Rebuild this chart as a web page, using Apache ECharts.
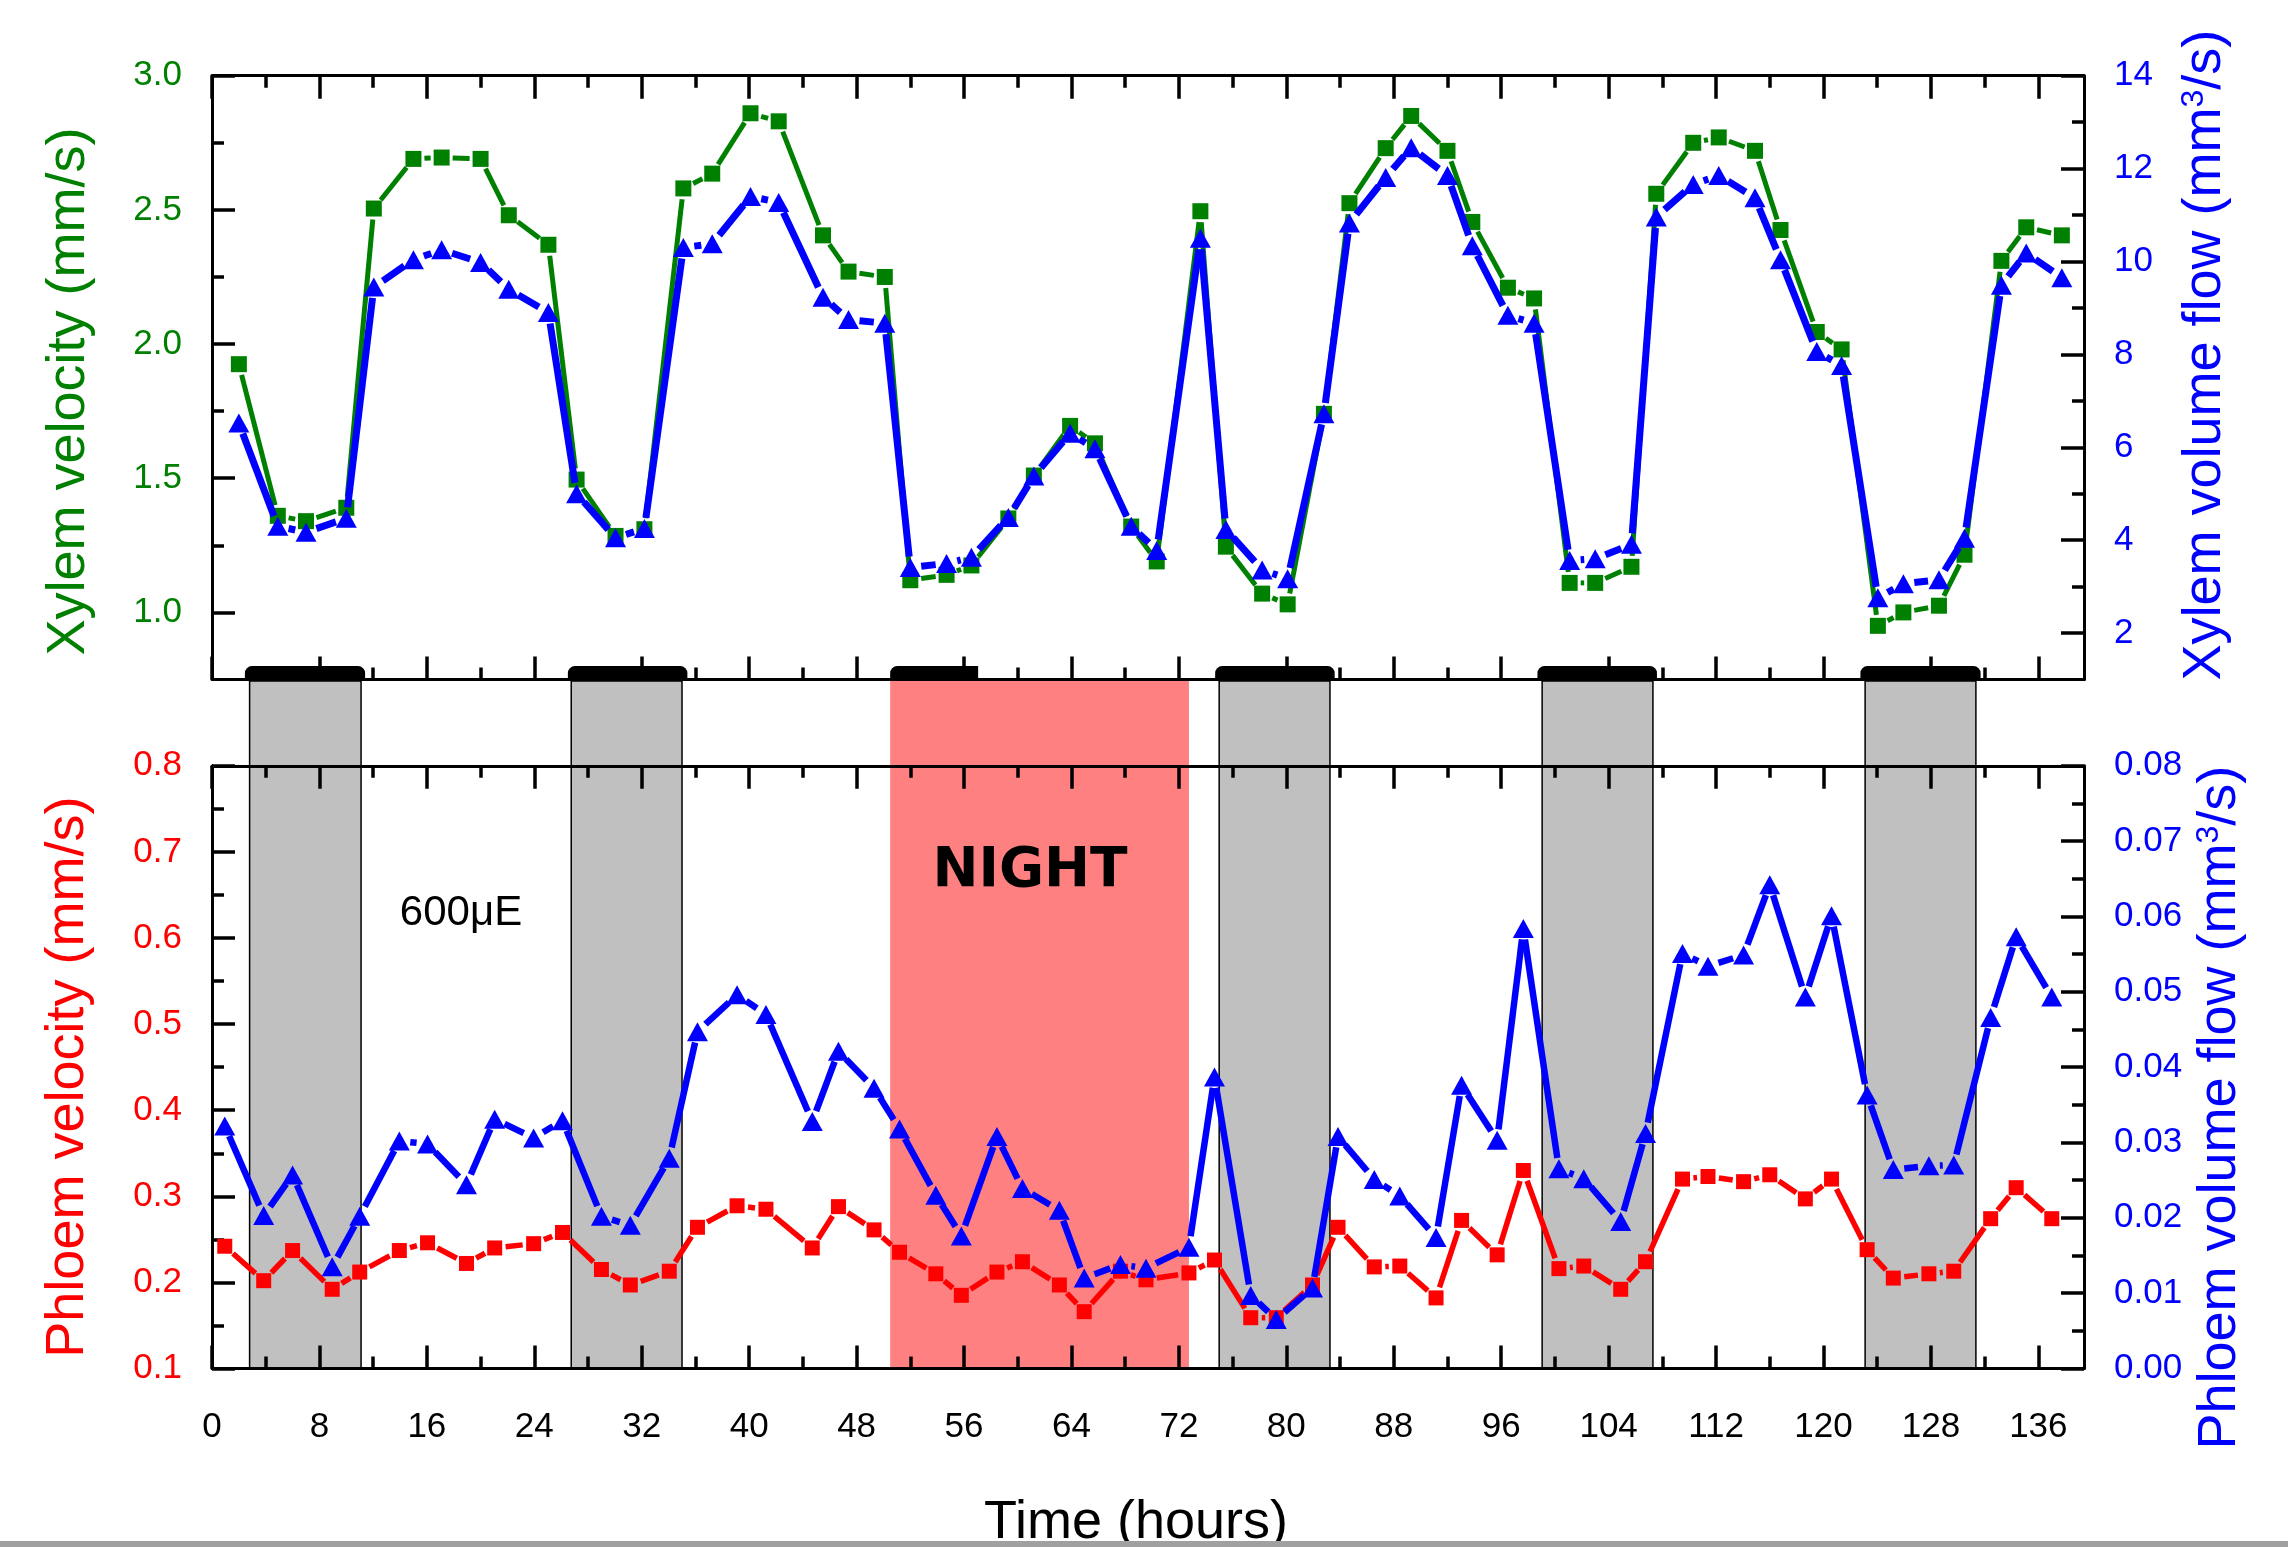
<!DOCTYPE html>
<html><head><meta charset="utf-8">
<script src="https://cdn.jsdelivr.net/npm/echarts@6/dist/echarts.min.js"></script>
<style>html,body{margin:0;padding:0;background:#fff}#c{width:2288px;height:1547px}</style>
</head><body><div id="c"></div>
<script>
// ---------------- data ----------------
const xylemTime = [2.0, 4.9, 7.0, 10.0, 12.05, 15.0, 17.1, 20.0, 22.1, 25.05, 27.15, 30.05, 32.2, 35.1, 37.25, 40.1, 42.2, 45.5, 47.4, 50.1, 52.0, 54.7, 56.55, 59.3, 61.2, 63.9, 65.75, 68.45, 70.35, 73.6, 75.5, 78.2, 80.1, 82.8, 84.7, 87.4, 89.3, 92.0, 93.85, 96.5, 98.45, 101.1, 103.0, 105.7, 107.55, 110.3, 112.2, 114.9, 116.8, 119.5, 121.35, 124.05, 125.95, 128.6, 130.5, 133.25, 135.1, 137.75];
const xylemVelocity = [1.925, 1.36, 1.34, 1.39, 2.505, 2.69, 2.695, 2.69, 2.48, 2.37, 1.495, 1.285, 1.31, 2.58, 2.635, 2.86, 2.83, 2.405, 2.27, 2.25, 1.12, 1.14, 1.175, 1.35, 1.51, 1.695, 1.63, 1.32, 1.19, 2.495, 1.245, 1.07, 1.03, 1.74, 2.525, 2.73, 2.85, 2.72, 2.455, 2.21, 2.17, 1.11, 1.11, 1.17, 2.56, 2.75, 2.77, 2.72, 2.425, 2.045, 1.98, 0.95, 1.0, 1.025, 1.215, 2.31, 2.435, 2.405];
const xylemFlow = [6.52, 4.3, 4.17, 4.47, 9.45, 10.04, 10.25, 9.98, 9.4, 8.9, 5.0, 4.05, 4.25, 10.3, 10.38, 11.4, 11.27, 9.23, 8.75, 8.67, 3.41, 3.5, 3.63, 4.49, 5.38, 6.3, 5.97, 4.3, 3.78, 10.5, 4.23, 3.36, 3.17, 6.72, 10.83, 11.81, 12.45, 11.85, 10.34, 8.84, 8.67, 3.56, 3.6, 3.91, 10.96, 11.66, 11.85, 11.37, 10.04, 8.06, 7.76, 2.76, 3.06, 3.15, 4.04, 9.49, 10.18, 9.65];

const phloemTime = [0.95, 3.85, 6.0, 8.95, 11.0, 13.95, 16.05, 18.95, 21.05, 23.95, 26.1, 29.0, 31.15, 34.05, 36.15, 39.1, 41.25, 44.7, 46.65, 49.3, 51.2, 53.9, 55.8, 58.45, 60.35, 63.1, 64.95, 67.65, 69.55, 72.75, 74.65, 77.35, 79.25, 81.95, 83.85, 86.55, 88.45, 91.15, 93.05, 95.7, 97.65, 100.3, 102.15, 104.9, 106.75, 109.5, 111.4, 114.05, 116.0, 118.65, 120.6, 123.25, 125.2, 127.85, 129.7, 132.45, 134.35, 137.0];
const phloemVelocity = [0.242, 0.202, 0.237, 0.192, 0.212, 0.237, 0.246, 0.222, 0.240, 0.245, 0.258, 0.215, 0.197, 0.213, 0.264, 0.289, 0.285, 0.240, 0.288, 0.261, 0.235, 0.210, 0.185, 0.212, 0.224, 0.197, 0.166, 0.213, 0.203, 0.211, 0.226, 0.159, 0.159, 0.197, 0.264, 0.218, 0.219, 0.182, 0.272, 0.232, 0.330, 0.216, 0.219, 0.192, 0.224, 0.320, 0.323, 0.317, 0.325, 0.297, 0.320, 0.238, 0.205, 0.210, 0.213, 0.274, 0.310, 0.274];
const phloemFlow = [0.0322, 0.0203, 0.0257, 0.0135, 0.0202, 0.0302, 0.0298, 0.0244, 0.0331, 0.0306, 0.0329, 0.0202, 0.0190, 0.0279, 0.0447, 0.0496, 0.0470, 0.0328, 0.0421, 0.0372, 0.0318, 0.0230, 0.0176, 0.0308, 0.0239, 0.0210, 0.0120, 0.0138, 0.0133, 0.0161, 0.0387, 0.0097, 0.0065, 0.0107, 0.0308, 0.0251, 0.0229, 0.0174, 0.0376, 0.0303, 0.0584, 0.0265, 0.0252, 0.0195, 0.0312, 0.0551, 0.0534, 0.0549, 0.0642, 0.0493, 0.0601, 0.0363, 0.0264, 0.0269, 0.0270, 0.0466, 0.0573, 0.0493];

const timeTicks = [0, 8, 16, 24, 32, 40, 48, 56, 64, 72, 80, 88, 96, 104, 112, 120, 128, 136];
const timeMinorTicks = [4, 12, 20, 28, 36, 44, 52, 60, 68, 76, 84, 92, 100, 108, 116, 124, 132];
const xylemVelTicks = [1.0, 1.5, 2.0, 2.5, 3.0];
const xylemVelMinor = [1.25, 1.75, 2.25, 2.75];
const xylemFlowTicks = [2, 4, 6, 8, 10, 12, 14];
const xylemFlowMinor = [3, 5, 7, 9, 11, 13];
const phloemVelTicks = [0.1, 0.2, 0.3, 0.4, 0.5, 0.6, 0.7, 0.8];
const phloemVelMinor = [0.15, 0.25, 0.35, 0.45, 0.55, 0.65, 0.75];
const phloemFlowTicks = [0, 0.01, 0.02, 0.03, 0.04, 0.05, 0.06, 0.07, 0.08];
const phloemFlowMinor = [0.005, 0.015, 0.025, 0.035, 0.045, 0.055, 0.065, 0.075];

const darkPeriods = [[2.8, 11.1], [26.75, 35.0], [75.0, 83.25], [99.05, 107.3], [123.1, 131.35]];
const nightPeriods = [[50.5, 72.75]];
const darkBars = [[2.45, 11.4], [26.5, 35.4], [74.7, 83.6], [98.7, 107.6], [122.75, 131.7]];
const nightBars = [[50.5, 57.05]];
const barRange = [0.75, 0.80];

// ---------------- helpers ----------------
const F = 'Liberation Sans, Arial, Helvetica, sans-serif';
const GAP = 11;
const X_MIN = 0, X_MAX = 139.4;

function xAx(grid, pos, ticks, len, showLine, withLabels, extra) {
  return Object.assign({
    type: 'value', gridIndex: grid, position: pos, min: X_MIN, max: X_MAX, z: 5,
    axisLine: { show: showLine, onZero: false, lineStyle: { color: '#000', width: 3 } },
    axisTick: { show: true, inside: true, length: len, customValues: ticks, lineStyle: { color: '#000', width: 3.5 } },
    axisLabel: withLabels ? { show: true, customValues: ticks, margin: 41, fontSize: 35, color: '#000', fontFamily: F, formatter: v => String(v) } : { show: false },
    splitLine: { show: false }, minorTick: { show: false }
  }, extra || {});
}
function yAx(grid, pos, min, max, ticks, len, showLine, labelColor, fmt, extra) {
  return Object.assign({
    type: 'value', gridIndex: grid, position: pos, min: min, max: max, z: 5,
    axisLine: { show: showLine, onZero: false, lineStyle: { color: '#000', width: 3 } },
    axisTick: { show: true, inside: true, length: len, customValues: ticks, lineStyle: { color: '#000', width: 3.5 } },
    axisLabel: labelColor ? { show: true, customValues: ticks, margin: 30, fontSize: 35, color: labelColor, fontFamily: F, formatter: fmt } : { show: false },
    splitLine: { show: false }, minorTick: { show: false }
  }, extra || {});
}
function segs(xs, ys) {
  const out = [];
  for (let i = 0; i < xs.length - 1; i++) out.push([xs[i], ys[i], xs[i + 1], ys[i + 1]]);
  return out;
}
function gapLine(xi, yi, xs, ys, color, width, z) {
  return {
    type: 'custom', xAxisIndex: xi, yAxisIndex: yi, z: z, silent: true,
    data: segs(xs, ys), encode: { x: [0, 2], y: [1, 3] },
    renderItem: function (params, api) {
      const p1 = api.coord([api.value(0), api.value(1)]);
      const p2 = api.coord([api.value(2), api.value(3)]);
      const dx = p2[0] - p1[0], dy = p2[1] - p1[1], L = Math.hypot(dx, dy);
      if (L <= 2 * GAP + 1) return { type: 'group', children: [] };
      const ux = dx / L, uy = dy / L;
      return { type: 'line', shape: { x1: p1[0] + ux * GAP, y1: p1[1] + uy * GAP, x2: p2[0] - ux * GAP, y2: p2[1] - uy * GAP },
        style: { stroke: color, lineWidth: width, lineCap: 'butt' } };
    }
  };
}
function marks(xi, yi, xs, ys, color, symbol, size, z) {
  return { type: 'scatter', xAxisIndex: xi, yAxisIndex: yi, z: z, silent: true, symbol: symbol, symbolSize: size,
    itemStyle: { color: color, opacity: 1 }, data: xs.map((x, i) => [x, ys[i]]) };
}
function shade(periods, fill, stroke) {
  return {
    type: 'custom', xAxisIndex: 8, yAxisIndex: 8, z: 1, silent: true, data: periods, encode: { x: [0, 1] },
    renderItem: function (params, api) {
      const a = api.coord([api.value(0), 1]);
      const b = api.coord([api.value(1), 0]);
      return { type: 'rect', shape: { x: a[0], y: a[1], width: b[0] - a[0], height: b[1] - a[1] },
        style: stroke ? { fill: fill, stroke: '#000', lineWidth: 1.5 } : { fill: fill } };
    }
  };
}
function bars(periods, rounded) {
  return {
    type: 'custom', xAxisIndex: 0, yAxisIndex: 0, z: 6, silent: true, data: periods, encode: { x: [0, 1] },
    renderItem: function (params, api) {
      const a = api.coord([api.value(0), barRange[1]]);
      const b = api.coord([api.value(1), barRange[0]]);
      return { type: 'rect', shape: { x: a[0], y: a[1], width: b[0] - a[0], height: b[1] - a[1], r: rounded ? [7, 7, 0, 0] : [7, 0, 0, 0] },
        style: { fill: '#000' } };
    }
  };
}

const TITLE = 54;
const option = {
  animation: false,
  backgroundColor: '#fff',
  grid: [
    { left: 212, top: 75.7, width: 1872, height: 603.8, outerBoundsMode: 'none', containLabel: false },
    { left: 212, top: 765.8, width: 1872, height: 602.7, outerBoundsMode: 'none', containLabel: false },
    { left: 212, top: 681, width: 1872, height: 687.5, outerBoundsMode: 'none', containLabel: false }
  ],
  xAxis: [
    xAx(0, 'bottom', timeTicks, 23, true, false),
    xAx(0, 'bottom', timeMinorTicks, 12, false, false),
    xAx(0, 'top', timeTicks, 23, true, false),
    xAx(0, 'top', timeMinorTicks, 12, false, false),
    xAx(1, 'bottom', timeTicks, 23, true, true, {
      name: 'Time (hours)', nameLocation: 'middle', nameGap: 128,
      nameTextStyle: { fontSize: TITLE, color: '#000', fontFamily: F, padding: [0, 24, 0, 0] }
    }),
    xAx(1, 'bottom', timeMinorTicks, 12, false, false),
    xAx(1, 'top', timeTicks, 23, true, false),
    xAx(1, 'top', timeMinorTicks, 12, false, false),
    { type: 'value', gridIndex: 2, min: X_MIN, max: X_MAX, show: false }
  ],
  yAxis: [
    yAx(0, 'left', 0.75, 3.0, xylemVelTicks, 23, true, '#008000', v => v.toFixed(1), {
      name: 'Xylem velocity (mm/s)', nameLocation: 'middle', nameRotate: 90, nameGap: 116,
      nameTextStyle: { fontSize: TITLE, color: '#008000', fontFamily: F, padding: [0, 28, 0, 0] }
    }),
    yAx(0, 'left', 0.75, 3.0, xylemVelMinor, 12, false, null),
    yAx(0, 'right', 1, 14, xylemFlowTicks, 23, true, '#0000ff', v => String(v), {
      name: '{a|Xylem volume flow (mm}{s|3}{a|/s)}', nameLocation: 'middle', nameRotate: 90, nameGap: 94,
      nameTextStyle: { color: '#0000ff', padding: [0, 0, 0, 45],
        rich: { a: { fontSize: TITLE, color: '#0000ff', fontFamily: F, verticalAlign: 'bottom' },
                s: { fontSize: 32, color: '#0000ff', fontFamily: F, verticalAlign: 'top' } } }
    }),
    yAx(0, 'right', 1, 14, xylemFlowMinor, 12, false, null),
    yAx(1, 'left', 0.1, 0.8, phloemVelTicks, 23, true, '#ff0000', v => v.toFixed(1), {
      name: 'Phloem velocity (mm/s)', nameLocation: 'middle', nameRotate: 90, nameGap: 117,
      nameTextStyle: { fontSize: TITLE, color: '#ff0000', fontFamily: F, padding: [0, 20, 0, 0] }
    }),
    yAx(1, 'left', 0.1, 0.8, phloemVelMinor, 12, false, null),
    yAx(1, 'right', 0, 0.08, phloemFlowTicks, 23, true, '#0000ff', v => v.toFixed(2), {
      name: '{a|Phloem volume flow (mm}{s|3}{a|/s)}', nameLocation: 'middle', nameRotate: 90, nameGap: 105,
      nameTextStyle: { color: '#0000ff', padding: [0, 81, 0, 0],
        rich: { a: { fontSize: TITLE, color: '#0000ff', fontFamily: F, verticalAlign: 'bottom' },
                s: { fontSize: 32, color: '#0000ff', fontFamily: F, verticalAlign: 'top' } } }
    }),
    yAx(1, 'right', 0, 0.08, phloemFlowMinor, 12, false, null),
    { type: 'value', gridIndex: 2, min: 0, max: 1, show: false }
  ],
  series: [
    shade(nightPeriods, '#ff8080', false),
    shade(darkPeriods, '#c0c0c0', true),
    bars(darkBars, true),
    bars(nightBars, false),
    gapLine(0, 0, xylemTime, xylemVelocity, '#008000', 5, 10),
    marks(0, 0, xylemTime, xylemVelocity, '#008000', 'rect', 16, 11),
    gapLine(0, 2, xylemTime, xylemFlow, '#0000ff', 7, 12),
    marks(0, 2, xylemTime, xylemFlow, '#0000ff', 'triangle', [21, 19], 13),
    gapLine(4, 4, phloemTime, phloemVelocity, '#ff0000', 5.5, 10),
    marks(4, 4, phloemTime, phloemVelocity, '#ff0000', 'rect', 15, 11),
    gapLine(4, 6, phloemTime, phloemFlow, '#0000ff', 6.5, 12),
    marks(4, 6, phloemTime, phloemFlow, '#0000ff', 'triangle', [21, 19], 13)
  ],
  graphic: [
    { type: 'text', z: 20, silent: true, style: { text: '600μE', x: 461, y: 913, align: 'center', verticalAlign: 'middle', fontSize: 42, fontFamily: F, fill: '#000' } },
    { type: 'text', z: 20, silent: true, style: { text: 'NIGHT', x: 1030, y: 872, align: 'center', verticalAlign: 'middle', fontSize: 55, fontWeight: 'bold', fontFamily: 'DejaVu Sans, Verdana, sans-serif', fill: '#000' } },
    { type: 'rect', z: 30, silent: true, shape: { x: 0, y: 1541, width: 2288, height: 6 }, style: { fill: '#a0a0a0' } }
  ]
};
const chart = echarts.init(document.getElementById('c'), null, { renderer: 'canvas' });
chart.setOption(option);
</script></body></html>
